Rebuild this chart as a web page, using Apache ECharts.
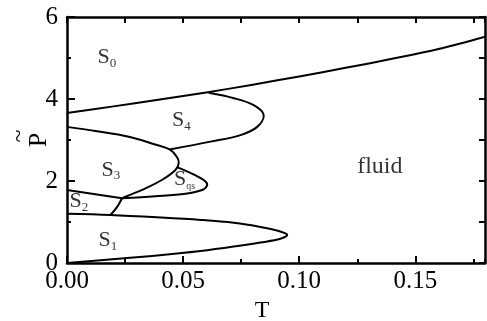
<!DOCTYPE html>
<html>
<head>
<meta charset="utf-8">
<script src="https://cdn.jsdelivr.net/npm/echarts@6/dist/echarts.min.js"></script>
<style>
  html, body { margin: 0; padding: 0; background: #fff; }
  #chart { width: 487px; height: 321px; }
</style>
</head>
<body>
<div id="chart"></div>
<script>
// Phase boundaries of the T–P̃ diagram, each as [T, P] points
const boundaryS0 = [[0, 3.66], [0.02, 3.82], [0.04, 3.99], [0.06, 4.16], [0.08, 4.35],
  [0.10, 4.55], [0.12, 4.76], [0.14, 4.98], [0.16, 5.22], [0.18, 5.52]];
const boundaryS4 = [[0.061, 4.15], [0.0718, 4.02], [0.0804, 3.85], [0.0847, 3.61],
  [0.0819, 3.32], [0.0747, 3.12], [0.0618, 2.96], [0.0442, 2.77]];
const boundaryS3 = [[0, 3.32], [0.0122, 3.22], [0.0266, 3.08], [0.038, 2.89], [0.0442, 2.77],
  [0.0474, 2.58], [0.0481, 2.43], [0.0467, 2.27], [0.041, 2.03], [0.0338, 1.82],
  [0.0266, 1.65], [0.0237, 1.58]];
const boundarySqs = [[0.0474, 2.34], [0.0553, 2.14], [0.0596, 1.99], [0.0603, 1.89],
  [0.0582, 1.78], [0.051, 1.69], [0.038, 1.63], [0.0237, 1.58]];
const boundaryS2 = [[0, 1.78], [0.0237, 1.58]];
const boundaryS2S1 = [[0.0237, 1.58], [0.0216, 1.37], [0.0187, 1.17]];
const boundaryS1 = [[0, 1.20], [0.0187, 1.17], [0.040, 1.11], [0.0575, 1.05], [0.0718, 0.98],
  [0.0833, 0.88], [0.0912, 0.78], [0.0948, 0.69], [0.0919, 0.59], [0.0833, 0.50],
  [0.0718, 0.40], [0.0575, 0.29], [0.0474, 0.23], [0.0259, 0.12], [0, 0]];

const boundaries = [boundaryS0, boundaryS4, boundaryS3, boundarySqs, boundaryS2, boundaryS2S1, boundaryS1];

// Phase names: [main letter, subscript, T, P]
const phaseNames = [
  ['S', '0', 0.0172, 5.02],
  ['S', '4', 0.0493, 3.48],
  ['S', '3', 0.0189, 2.27],
  ['S', '2', 0.0051, 1.50],
  ['S', 'qs', 0.0506, 2.04],
  ['S', '1', 0.0176, 0.55],
  ['fluid', '', 0.1347, 2.36]
];

const xTicksLabelled = ['0.00', '0.05', '0.10', '0.15'];
const yTicksLabelled = ['0', '2', '4', '6'];

const serif = '"Times New Roman", "Liberation Serif", serif';
const black = '#000';

// Each boundary is one smooth polyline placed through the axes' coordinate system
function boundarySeries(curve) {
  return {
    type: 'custom', silent: true, xAxisIndex: 0, yAxisIndex: 0,
    data: curve,
    renderItem: (params, api) => {
      if (params.dataIndex !== 0) return null;
      return {
        type: 'polyline',
        shape: { points: curve.map(p => api.coord(p)), smooth: 0.35 },
        style: { stroke: black, lineWidth: 2, fill: null, lineJoin: 'round' }
      };
    }
  };
}

const axisLine = { show: true, onZero: false, lineStyle: { color: black, width: 2.5 } };

const option = {
  backgroundColor: '#fff',
  animation: false,
  grid: { left: 67, right: 2, top: 17, bottom: 58, containLabel: false, outerBoundsMode: 'none' },
  // tilde accent over the vertical P title
  graphic: [{
    type: 'text', x: 20, y: 136, rotation: Math.PI / 2, silent: true,
    style: { text: '~', fill: black, font: '24px ' + serif, align: 'center', verticalAlign: 'middle' }
  }],
  xAxis: [
    {
      type: 'value', min: 0, max: 0.18, interval: 0.05, position: 'bottom',
      axisLine: axisLine,
      axisTick: { inside: true, length: 7, lineStyle: { color: black, width: 2 } },
      axisLabel: {
        showMaxLabel: false, margin: 6, color: black, fontFamily: serif, fontSize: 25,
        formatter: v => xTicksLabelled.find(s => Math.abs(parseFloat(s) - v) < 1e-9) || ''
      },
      splitLine: { show: false },
      name: 'T', nameLocation: 'middle', nameGap: 38, nameMoveOverlap: false,
      nameTextStyle: { color: black, fontFamily: serif, fontSize: 24, lineHeight: 20, padding: [0, 28, 0, 0] }
    },
    {
      type: 'value', min: 0, max: 0.18, interval: 0.025, position: 'bottom',
      axisLine: { show: false },
      axisTick: { inside: true, length: 4, lineStyle: { color: black, width: 2 } },
      axisLabel: { show: false }, splitLine: { show: false }
    },
    {
      type: 'value', min: 0, max: 0.18, interval: 0.025, position: 'top',
      axisLine: axisLine,
      axisTick: { inside: true, length: 6, lineStyle: { color: black, width: 2 } },
      axisLabel: { show: false }, splitLine: { show: false }
    }
  ],
  yAxis: [
    {
      type: 'value', min: 0, max: 6, interval: 2, position: 'left',
      axisLine: axisLine,
      axisTick: { inside: true, length: 8, lineStyle: { color: black, width: 2 } },
      minorTick: { show: true, splitNumber: 2, length: 4, lineStyle: { color: black, width: 2 } },
      axisLabel: {
        margin: 9, color: black, fontFamily: serif, fontSize: 25,
        formatter: v => yTicksLabelled.find(s => parseFloat(s) === v) || ''
      },
      splitLine: { show: false }, minorSplitLine: { show: false },
      name: 'P', nameLocation: 'middle', nameGap: 18, nameRotate: 90, nameMoveOverlap: false,
      nameTextStyle: { color: black, fontFamily: serif, fontSize: 26, lineHeight: 20 }
    },
    {
      type: 'value', min: 0, max: 6, interval: 1, position: 'right',
      axisLine: axisLine,
      axisTick: { inside: true, length: 6, lineStyle: { color: black, width: 2 } },
      axisLabel: { show: false }, splitLine: { show: false }
    }
  ],
  series: boundaries.map(boundarySeries).concat([
    {
      type: 'scatter', silent: true, symbolSize: 1,
      itemStyle: { color: 'rgba(0,0,0,0)' },
      data: phaseNames.map(p => [p[2], p[3]]),
      label: {
        show: true, position: 'inside', color: black,
        formatter: params => {
          const d = phaseNames[params.dataIndex];
          if (!d[1]) return '{big|' + d[0] + '}';
          return '{s|' + d[0] + '}{' + (d[1] === 'qs' ? 'qs' : 'sub') + '|' + d[1] + '}';
        },
        rich: {
          s: { fontFamily: serif, fontSize: 22, color: black, lineHeight: 22 },
          sub: { fontFamily: serif, fontSize: 13, color: black, padding: [12, 0, 0, 0], lineHeight: 13 },
          qs: { fontFamily: serif, fontSize: 10, color: black, padding: [14, 0, 0, 0], lineHeight: 10 },
          big: { fontFamily: serif, fontSize: 24, color: black }
        }
      }
    }
  ])
};

const chart = echarts.init(document.getElementById('chart'), null, { renderer: 'canvas' });
chart.setOption(option);
</script>
</body>
</html>
